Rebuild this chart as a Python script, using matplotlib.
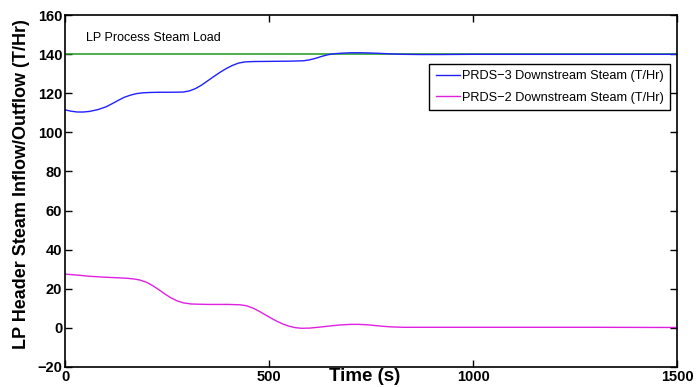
import matplotlib
matplotlib.use("Agg")
import matplotlib.pyplot as plt

plt.rcParams["font.family"] = ["Liberation Sans", "DejaVu Sans"]

# PRDS-3 downstream steam (T/Hr)
t_prds3 = [0, 15, 30, 45, 60, 80, 100, 115, 130, 145, 160, 175, 190, 210, 230,
           260, 290, 305, 320, 335, 350, 365, 380, 395, 410, 425, 440, 460, 500,
           550, 585, 600, 615, 630, 645, 660, 680, 700, 720, 745, 770, 800, 830,
           870, 920, 1000, 1200, 1500]
prds3 = [111.5, 110.8, 110.4, 110.4, 110.7, 111.6, 113.0, 114.6, 116.3, 117.9,
         119.0, 119.8, 120.2, 120.4, 120.5, 120.5, 120.6, 121.2, 122.4, 124.2,
         126.4, 128.6, 130.7, 132.6, 134.2, 135.4, 136.0, 136.2, 136.3, 136.4,
         136.6, 137.1, 137.9, 138.9, 139.7, 140.2, 140.5, 140.7, 140.7, 140.6,
         140.4, 140.1, 139.9, 139.8, 139.8, 139.9, 139.9, 139.9]

# PRDS-2 downstream steam (T/Hr)
t_prds2 = [0, 30, 60, 90, 120, 150, 170, 185, 200, 215, 230, 245, 260, 275,
           290, 310, 350, 400, 430, 445, 460, 475, 490, 505, 520, 535, 550, 565,
           580, 600, 625, 650, 675, 700, 720, 740, 760, 780, 800, 830, 900, 1100,
           1300, 1500]
prds2 = [27.5, 27.0, 26.4, 26.0, 25.7, 25.4, 25.0, 24.4, 23.3, 21.6, 19.5, 17.3,
         15.3, 13.8, 12.8, 12.2, 12.0, 12.0, 11.8, 11.3, 10.2, 8.6, 6.8, 5.0, 3.3,
         1.9, 0.8, 0.1, -0.2, -0.1, 0.4, 1.0, 1.5, 1.8, 1.8, 1.6, 1.2, 0.8, 0.5,
         0.3, 0.3, 0.3, 0.3, 0.2]

# LP process steam load
t_load = [0, 1500]
load = [140, 140]

xticks = [0, 500, 1000, 1500]
yticks = [-20, 0, 20, 40, 60, 80, 100, 120, 140, 160]

fig = plt.figure(figsize=(6.97, 3.87), dpi=100)
ax = fig.add_axes([0.0933, 0.0517, 0.878, 0.9095])

ax.plot(t_load, load, color="#1a9a1a", lw=1.1)
l3, = ax.plot(t_prds3, prds3, color="#2020ff", lw=1.0,
              label="PRDS\u22123 Downstream Steam (T/Hr)")
l2, = ax.plot(t_prds2, prds2, color="#e020e0", lw=1.0,
              label="PRDS\u22122 Downstream Steam (T/Hr)")

ax.text(51, 148, "LP Process Steam Load", fontsize=9, va="center")

ax.set_xlim(0, 1500)
ax.set_ylim(-20, 160)
ax.set_xticks(xticks)
ax.set_yticks(yticks)
ax.tick_params(direction="in", top=True, right=True, length=5, width=1,
               labelsize=10.5, pad=2)
for lab in ax.get_xticklabels() + ax.get_yticklabels():
    lab.set_fontweight("bold")
for sp in ax.spines.values():
    sp.set_linewidth(1.2)

ax.set_xlabel("Time (s)", fontsize=13.5, fontweight="bold")
ax.xaxis.set_label_coords(0.49, -0.004)
ax.set_ylabel("LP Header Steam Inflow/Outflow (T/Hr)", fontsize=13,
              fontweight="bold")
ax.yaxis.set_label_coords(-0.058, 0.52)

leg = ax.legend(handles=[l3, l2], loc="upper right",
                bbox_to_anchor=(0.989, 0.862), fontsize=9.2, frameon=True,
                fancybox=False, framealpha=1, edgecolor="black",
                handlelength=1.9, handletextpad=0.15, borderpad=0.5,
                labelspacing=0.75, borderaxespad=0)
leg.get_frame().set_linewidth(1.0)

fig.savefig("out.png", dpi=100)
